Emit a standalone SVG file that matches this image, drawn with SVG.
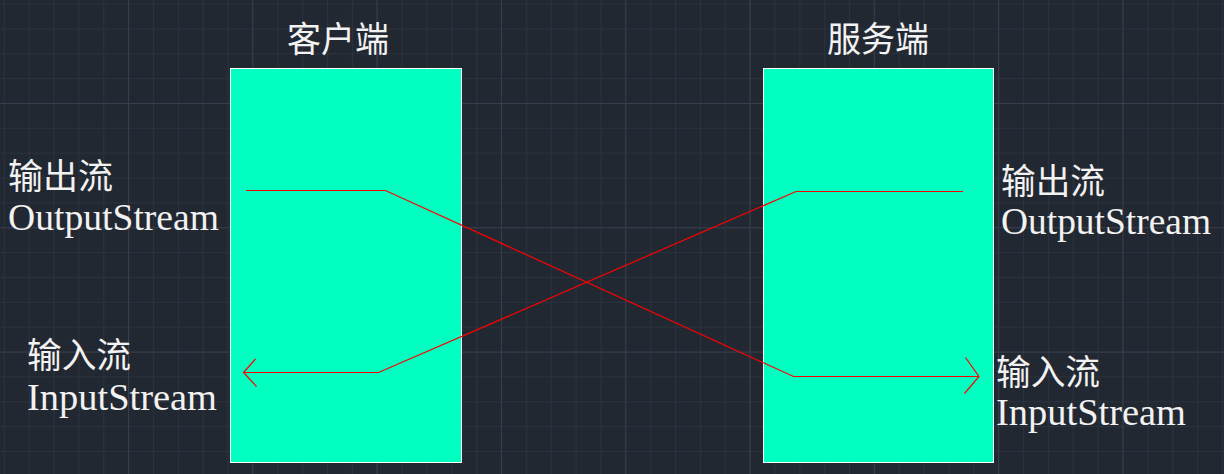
<svg xmlns="http://www.w3.org/2000/svg" width="1224" height="474" viewBox="0 0 1224 474">
<defs>
<pattern id="minor" x="3.8" y="3.5" width="24.86" height="24.86" patternUnits="userSpaceOnUse">
<path d="M0.5 0 V24.86 M0 0.5 H24.86" stroke="#2c323d" stroke-width="1" fill="none"/>
</pattern>
<style>
.box{fill:#00ffc0;stroke:#ffffff;stroke-width:1}
.cjk{font-family:"Noto Sans CJK SC","Noto Sans",sans-serif;fill:#f2f2f2;font-size:35px}
.lat{font-family:"Liberation Serif",serif;fill:#f2f2f2;font-size:37px}
.wire{fill:none;stroke:#ff0000;stroke-width:1.2}
.major{stroke:#383e4b;stroke-width:1}
</style>
</defs>
<rect width="1224" height="474" fill="#222831"/>
<rect width="1224" height="474" fill="url(#minor)"/>
<g class="major">
<path d="M128.5 0V474M252.8 0V474M377.1 0V474M501.4 0V474M625.7 0V474M750 0V474M874.3 0V474M998.6 0V474M1122.9 0V474M0 103.5H1224M0 227.8H1224M0 352.1H1224"/>
</g>
<g id="client">
<rect class="box" x="230.5" y="68.5" width="231" height="394"/>
<text class="cjk" x="287" y="52" font-size="34" textLength="102" lengthAdjust="spacingAndGlyphs">客户端</text>
<text class="cjk" x="8" y="189" textLength="105" lengthAdjust="spacingAndGlyphs">输出流</text>
<text class="lat" x="8" y="230" textLength="211" lengthAdjust="spacingAndGlyphs">OutputStream</text>
<text class="cjk" x="27" y="368" textLength="104" lengthAdjust="spacingAndGlyphs">输入流</text>
<text class="lat" x="27" y="410" textLength="190" lengthAdjust="spacingAndGlyphs">InputStream</text>
</g>
<g id="server">
<rect class="box" x="763.5" y="68.5" width="230" height="394"/>
<text class="cjk" x="827" y="52" font-size="34" textLength="102" lengthAdjust="spacingAndGlyphs">服务端</text>
<text class="cjk" x="1001" y="194" textLength="104" lengthAdjust="spacingAndGlyphs">输出流</text>
<text class="lat" x="1001" y="234" textLength="210" lengthAdjust="spacingAndGlyphs">OutputStream</text>
<text class="cjk" x="996" y="385" textLength="104" lengthAdjust="spacingAndGlyphs">输入流</text>
<text class="lat" x="996" y="425" textLength="190" lengthAdjust="spacingAndGlyphs">InputStream</text>
</g>
<g id="connectors" class="wire">
<path d="M246 190.5 H385.5 L793.5 376.5 H979"/>
<path d="M965.5 357.5 L979 376.5 L964.5 393.5"/>
<path d="M963 191.5 H796 L378.5 372.5 H243.5"/>
<path d="M255.5 359 L243.5 372.5 L256.5 386.5"/>
</g>
</svg>
